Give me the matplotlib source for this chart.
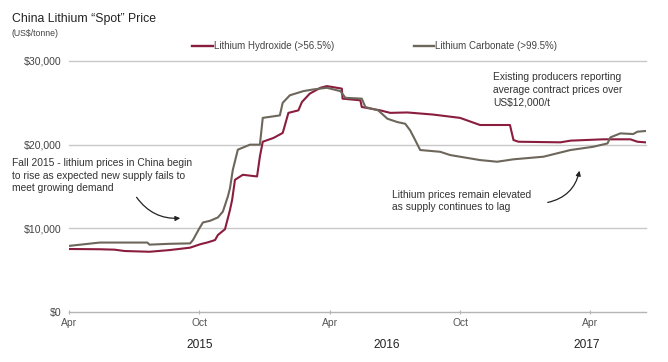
import matplotlib
matplotlib.use("Agg")
import matplotlib.pyplot as plt
import pandas as pd

plt.rcParams['font.family'] = ['Liberation Sans', 'DejaVu Sans']

carb_dates = ["2015-04-01", "2015-05-14", "2015-07-20", "2015-07-23", "2015-08-20", "2015-09-18",
              "2015-09-22", "2015-10-01", "2015-10-06", "2015-10-16", "2015-10-27", "2015-11-03",
              "2015-11-10", "2015-11-13", "2015-11-17", "2015-11-24", "2015-12-11", "2015-12-25",
              "2015-12-29", "2016-01-22", "2016-01-26", "2016-02-05", "2016-02-24", "2016-03-09",
              "2016-03-28", "2016-04-16", "2016-04-23", "2016-05-16", "2016-05-21", "2016-06-08",
              "2016-06-21", "2016-07-05", "2016-07-16", "2016-07-23", "2016-07-30", "2016-08-06",
              "2016-09-03", "2016-09-17", "2016-10-01", "2016-10-29", "2016-11-22", "2016-12-15",
              "2017-01-26", "2017-03-05", "2017-04-06", "2017-04-26", "2017-04-30", "2017-05-14",
              "2017-06-01", "2017-06-07", "2017-06-18"]
carb_values = [7900, 8300, 8300, 8050, 8150, 8200,
               8600, 10000, 10700, 10900, 11300, 12000,
               13800, 14800, 17000, 19400, 20000, 20000,
               23200, 23500, 25000, 25900, 26400, 26600,
               26800, 26400, 25600, 25500, 24500, 24100,
               23100, 22700, 22500, 21700, 20550, 19360,
               19150, 18760, 18560, 18160, 17960, 18250,
               18560, 19360, 19750, 20150, 20870, 21350,
               21270, 21550, 21630]

hydr_dates = ["2015-04-01", "2015-05-14", "2015-06-04", "2015-06-18", "2015-07-23", "2015-08-20",
              "2015-09-18", "2015-10-02", "2015-10-13", "2015-10-23", "2015-10-27", "2015-11-06",
              "2015-11-13", "2015-11-16", "2015-11-20", "2015-12-01", "2015-12-21", "2015-12-25",
              "2015-12-29", "2016-01-13", "2016-01-26", "2016-02-03", "2016-02-17", "2016-02-22",
              "2016-03-04", "2016-03-19", "2016-03-28", "2016-04-18", "2016-04-19", "2016-05-14",
              "2016-05-16", "2016-06-11", "2016-06-25", "2016-07-19", "2016-08-24", "2016-10-01",
              "2016-10-29", "2016-12-10", "2016-12-15", "2016-12-22", "2017-02-19", "2017-03-05",
              "2017-04-20", "2017-05-28", "2017-06-07", "2017-06-18"]
hydr_values = [7530, 7500, 7450, 7290, 7200, 7400,
               7690, 8090, 8330, 8600, 9200, 9900,
               12200, 13400, 15800, 16400, 16200, 18600,
               20350, 20800, 21400, 23800, 24100, 25100,
               26100, 26800, 27000, 26700, 25500, 25300,
               24500, 24100, 23800, 23850, 23600, 23200,
               22350, 22350, 20550, 20350, 20280, 20480,
               20640, 20640, 20350, 20280]

y_ticks = [0, 10000, 20000, 30000]
y_labels = ["$0", "$10,000", "$20,000", "$30,000"]
x_ticks = ["2015-04-01", "2015-10-01", "2016-04-01", "2016-10-01", "2017-04-01"]
x_labels = ["Apr", "Oct", "Apr", "Oct", "Apr"]
years = [("2015", "2015-10-01"), ("2016", "2016-06-20"), ("2017", "2017-03-28")]

RED = "#8a1d3d"
GRAY = "#6d665b"
TXT = "#333333"

fig = plt.figure(figsize=(6.68, 3.62), dpi=100)
ax = fig.add_axes([69/668, 1-312/362, (646-69)/668, (312-61)/362])

cd = pd.to_datetime(carb_dates)
hd = pd.to_datetime(hydr_dates)
ax.plot(hd, hydr_values, color=RED, lw=1.5, zorder=3, label="Lithium Hydroxide (>56.5%)")
ax.plot(cd, carb_values, color=GRAY, lw=1.5, zorder=3, label="Lithium Carbonate (>99.5%)")

ax.set_xlim(pd.Timestamp("2015-04-01"), pd.Timestamp("2017-06-19"))
ax.set_ylim(0, 30000)
for s in ["top", "right", "left"]:
    ax.spines[s].set_visible(False)
ax.spines["bottom"].set_color("#b5b5b5")
ax.spines["bottom"].set_linewidth(1.0)
for v in y_ticks[1:]:
    ax.axhline(v, color="#c8c8c8", lw=1.0, zorder=1, clip_on=False)

ax.set_yticks(y_ticks)
ax.set_yticklabels(y_labels, fontsize=7.6, color="#444444")
ax.tick_params(axis="y", length=0, pad=5.5)
ax.set_xticks(pd.to_datetime(x_ticks))
ax.set_xticklabels(x_labels, fontsize=7.4, color="#555555")
ax.tick_params(axis="x", length=3, direction="inout", color="#b5b5b5", pad=3)

for yr, d in years:
    ax.text(pd.Timestamp(d), -0.13, yr, transform=ax.get_xaxis_transform(),
            ha="center", va="center", fontsize=8.6, color="#222222")

fig.text(12/668, 1-19/362, "China Lithium \u201cSpot\u201d Price", fontsize=8.8,
         va="center", ha="left", color="#222222")
fig.text(12/668, 1-33/362, "(US$/tonne)", fontsize=6.3, va="center", ha="left", color="#444444")

# legend
fig.lines.append(plt.Line2D([192/668, 213/668], [1-46/362]*2, color=RED, lw=1.7,
                            transform=fig.transFigure))
fig.text(214/668, 1-46/362, "Lithium Hydroxide (>56.5%)", fontsize=7.0, va="center",
         ha="left", color="#444444")
fig.lines.append(plt.Line2D([414/668, 434/668], [1-46/362]*2, color=GRAY, lw=1.7,
                            transform=fig.transFigure))
fig.text(435/668, 1-46/362, "Lithium Carbonate (>99.5%)", fontsize=7.0, va="center",
         ha="left", color="#444444")

# annotations
fig.text(12/668, 1-158.5/362,
         "Fall 2015 - lithium prices in China begin\nto rise as expected new supply fails to\nmeet growing demand",
         fontsize=7.4, va="top", ha="left", color=TXT, linespacing=1.3)
fig.text(392/668, 1-190/362, "Lithium prices remain elevated\nas supply continues to lag",
         fontsize=7.4, va="top", ha="left", color=TXT, linespacing=1.3)
fig.text(493/668, 1-72.5/362,
         "Existing producers reporting\naverage contract prices over\nUS$12,000/t",
         fontsize=7.4, va="top", ha="left", color=TXT, linespacing=1.3)

ax.annotate("", xy=(183/668, 1-218/362), xytext=(135/668, 1-195/362),
            xycoords="figure fraction", textcoords="figure fraction",
            arrowprops=dict(arrowstyle="-|>", color="#222222", lw=0.9,
                            connectionstyle="arc3,rad=0.3", mutation_scale=7))
ax.annotate("", xy=(580/668, 1-168/362), xytext=(545/668, 1-203/362),
            xycoords="figure fraction", textcoords="figure fraction",
            arrowprops=dict(arrowstyle="-|>", color="#222222", lw=0.9,
                            connectionstyle="arc3,rad=0.35", mutation_scale=7))

fig.savefig("out.png", dpi=100)
